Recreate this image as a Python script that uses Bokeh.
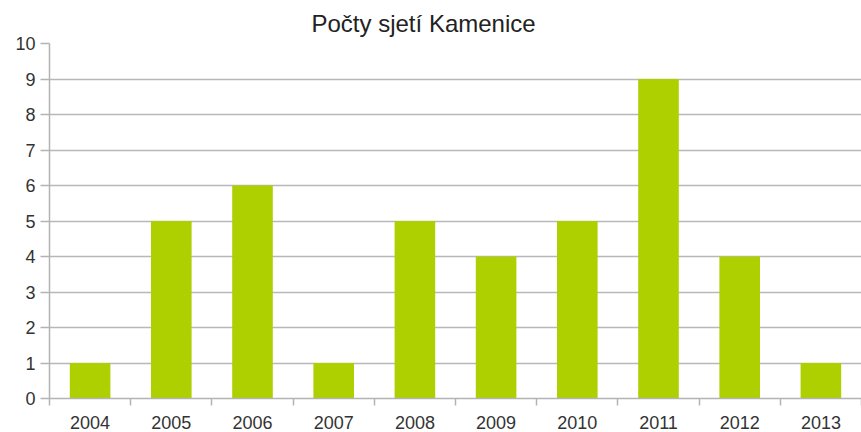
from bokeh.plotting import figure
from bokeh.models import FixedTicker, Range1d, ColumnDataSource
from bokeh.embed import file_html
from bokeh.resources import INLINE

years = ["2004", "2005", "2006", "2007", "2008", "2009", "2010", "2011", "2012", "2013"]
counts = [1, 5, 6, 1, 5, 4, 5, 9, 4, 1]
y_ticks = list(range(0, 11))

centers = [i + 0.5 for i in range(len(years))]
src = ColumnDataSource(dict(x=centers, top=counts))

p = figure(width=861, height=432, output_backend="svg", toolbar_location=None,
           x_range=Range1d(0, len(years)), y_range=Range1d(0, 10),
           title="Počty sjetí Kamenice", min_border_left=49, min_border_right=0,
           min_border_top=43, min_border_bottom=34)
p.title.align = "left"
p.title.offset = 262
p.title.text_font = "Liberation Sans"
p.title.text_font_size = "24px"
p.title.text_font_style = "normal"
p.title.text_color = "#222222"
p.title.standoff = 13

p.vbar(x="x", top="top", width=0.5, source=src, fill_color="#aecf00", line_color=None)

p.outline_line_color = None
p.background_fill_color = "white"
p.xgrid.grid_line_color = None
p.ygrid.grid_line_color = "#b8b8b8"
p.ygrid.grid_line_width = 1.5
p.ygrid.level = "underlay"

p.xaxis.ticker = FixedTicker(ticks=centers, minor_ticks=list(range(0, len(years) + 1)))
p.xaxis.major_label_overrides = {c: y for c, y in zip(centers, years)}
p.xaxis.major_tick_line_color = None
p.xaxis.major_tick_out = 0
p.xaxis.major_tick_in = 0
p.xaxis.minor_tick_line_color = "#b3b3b3"
p.xaxis.minor_tick_line_width = 1.5
p.xaxis.minor_tick_out = 7
p.xaxis.minor_tick_in = 0
p.xaxis.axis_line_color = "#b3b3b3"
p.xaxis.axis_line_width = 1.5
p.xaxis.major_label_standoff = 10

p.yaxis.ticker = FixedTicker(ticks=y_ticks)
p.yaxis.minor_tick_line_color = None
p.yaxis.major_tick_line_color = "#b3b3b3"
p.yaxis.major_tick_line_width = 1.5
p.yaxis.major_tick_out = 9
p.yaxis.major_tick_in = 0
p.yaxis.axis_line_color = "#b3b3b3"
p.yaxis.axis_line_width = 1.5
p.yaxis.major_label_standoff = 5

for ax in (p.xaxis, p.yaxis):
    ax.major_label_text_font = "Liberation Sans"
    ax.major_label_text_font_size = "18px"
    ax.major_label_text_color = "#333333"

open("out.html", "w").write(file_html(p, INLINE))
